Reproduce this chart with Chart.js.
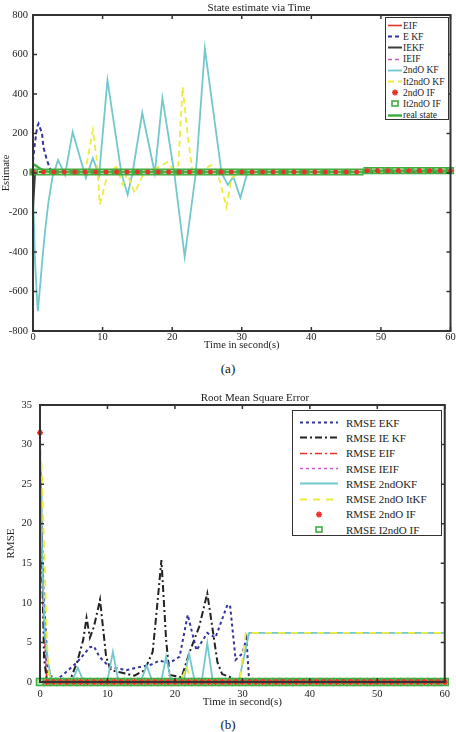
<!DOCTYPE html>
<html>
<head>
<meta charset="utf-8">
<script src="https://cdn.jsdelivr.net/npm/chart.js@4.4.1/dist/chart.umd.min.js"></script>
<style>
  body { margin:0; background:#fff; width:456px; height:732px; overflow:hidden; position:relative;
         font-family:"Liberation Serif", "Times New Roman", serif; color:#222; }
  canvas { position:absolute; left:0; }
  #cA { top:0; }
  #cB { top:380px; }
  .ttl { position:absolute; font-size:11px; white-space:nowrap; transform:translate(-50%,-50%); z-index:2; color:#222; }
  .cap { position:absolute; font-size:13px; white-space:nowrap; transform:translate(-50%,-50%); color:#111; }
  .leg { position:absolute; border:1.5px solid #333; background:#fff; box-sizing:border-box; z-index:3; color:#222; }
  .leg .row { display:flex; align-items:center; white-space:nowrap; }
  .leg svg { flex:none; }
  #legA { left:385px; top:17px; width:64px; height:103px; padding-top:2px; font-size:9.5px; overflow:hidden; }
  #legA .row { height:11.2px; }
  #legA svg { margin-left:2px; margin-right:1px; }
  #legB { left:292px; top:410px; width:150px; height:126px; padding-top:4px; font-size:11px; }
  #legB .row { height:15.3px; }
  #legB svg { margin-left:7px; margin-right:8px; }
</style>
</head>
<body>
<div class="ttl" style="left:259px;top:7px">State estimate via Time</div>
<canvas id="cA" width="456" height="352"></canvas>
<div class="leg" id="legA"></div>
<div class="cap" style="left:228px;top:369px">(a)</div>

<div class="ttl" style="left:255px;top:397px">Root Mean Square Error</div>
<canvas id="cB" width="456" height="329"></canvas>
<div class="leg" id="legB"></div>
<div class="cap" style="left:228px;top:725px">(b)</div>

<script>
// ---- (a) state estimate data ---- //
const labelsA = ['EIF', 'E KF', 'IEKF', 'IEIF', '2ndO KF', 'It2ndO KF', '2ndO IF', 'It2ndO IF', 'real state'];

const timeEifA = [0, 0.5, 60];
const estEifA = [20, 5, 5];
const timeEkfA = [0, 0.2, 0.6, 0.8, 1.3, 1.5, 2.0, 2.6, 60];
const estEkfA = [60, 130, 235, 250, 200, 130, 65, 8, 5];
const timeIekfA = [0, 0.3, 60];
const estIekfA = [-180, 5, 5];
const timeIeifA = [0, 0.5, 60];
const estIeifA = [10, 5, 5];
const timeKf2A = [0, 0.3, 0.6, 0.7, 1.0, 1.3, 1.7, 2.2, 2.8, 3.6, 4.6, 5.7, 7.6, 8.6, 9.5, 10.7, 12.7,
                  13.6, 14.3, 15.7, 17.5, 18.6, 20.3, 21.8, 23.4, 24.7, 27.1, 28.0, 28.8, 29.8, 30.8, 31.5, 60];
const estKf2A = [-100, -450, -650, -700, -580, -456, -304, -152, -20, 66, -10, 208, -25, 75, -10, 470, 0,
                 -110, 0, 305, 0, 380, 0, -425, 0, 630, 0, -60, -20, -125, 0, 5, 5];
const timeIt2A = [0, 7.5, 8.0, 8.6, 9.2, 9.6, 10.2, 10.8, 12.0, 12.9, 13.5, 14.6, 15.3, 16.0, 17.5, 19.3,
                  20.8, 21.5, 22.2, 22.9, 24.0, 25.6, 26.5, 27.8, 28.5, 29.5, 60];
const estIt2A = [5, 5, 100, 218, 60, -160, -80, 10, 30, -60, 0, -100, -50, 10, 20, 55,
                 -10, 435, 200, 10, 5, 40, 5, -172, -30, 5, 5];
const timeStarA = [0, 1.5, 3, 4.5, 6, 7.5, 9, 10.5, 12, 13.5, 15, 16.5, 18, 19.5, 21, 22.5, 24, 25.5, 27, 28.5,
                   30, 31.5, 33, 34.5, 36, 37.5, 39, 40.5, 42, 43.5, 45, 46.5, 48, 49.5, 51, 52.5, 54, 55.5, 57, 58.5, 60];
const starIfA = [5, 5, 5, 5, 5, 5, 5, 5, 5, 5,
                 5, 5, 5, 5, 5, 5, 5, 5, 5, 5,
                 5, 5, 5, 5, 5, 5, 5, 5, 5, 5,
                 5, 5, 12, 12, 12, 12, 12, 12, 12, 12, 12];
const secs = [0, 1, 2, 3, 4, 5, 6, 7, 8, 9, 10, 11, 12, 13, 14, 15, 16, 17, 18, 19, 20, 21, 22, 23, 24, 25, 26, 27, 28, 29,
              30, 31, 32, 33, 34, 35, 36, 37, 38, 39, 40, 41, 42, 43, 44, 45, 46, 47, 48, 49, 50, 51, 52, 53, 54, 55, 56, 57, 58, 59, 60];
const squareIfA = [5, 5, 5, 5, 5, 5, 5, 5, 5, 5,
                   5, 5, 5, 5, 5, 5, 5, 5, 5, 5,
                   5, 5, 5, 5, 5, 5, 5, 5, 5, 5,
                   5, 5, 5, 5, 5, 5, 5, 5, 5, 5,
                   5, 5, 5, 5, 5, 5, 5, 5, 12, 12,
                   12, 12, 12, 12, 12, 12, 12, 12, 12, 12, 12];
const timeRealA = [0, 0.5, 1.0, 1.5, 2.0, 3.0, 47.5, 48.0, 60];
const realA = [45, 35, 22, 14, 8, 5, 5, 12, 12];
const yTicksA = { min: -800, max: 800, step: 200 };

// ---- (b) RMSE data ---- //
const labelsB = ['RMSE EKF', 'RMSE IE KF', 'RMSE EIF', 'RMSE IEIF', 'RMSE 2ndOKF', 'RMSE 2ndO ItKF', 'RMSE 2ndO IF', 'RMSE I2ndO IF'];

const timeEkfB = [0, 0.5, 1.2, 2.5, 3.4, 5.5, 7.4, 8.0, 8.8, 10.3, 12.8, 14.8, 16.5, 17.7, 19.2, 20.7,
                  21.9, 23.2, 24.8, 26.0, 27.8, 28.2, 29.0, 30.0, 30.6, 31.0, 60];
const rmseEkfB = [28, 12, 1, 0.3, 0.9, 2.5, 4.4, 4.5, 3.2, 1.9, 1.5, 1.9, 2.2, 2.7, 2.4, 3.2,
                  8.5, 4.0, 6.2, 5.6, 9.8, 9.5, 2.8, 3.6, 5.5, 0.2, 0.2];
const timeIekfB = [0, 0.3, 0.6, 1.0, 4.5, 5.5, 6.4, 6.9, 7.4, 8.0, 8.9, 9.8, 10.5, 12.0, 14.0, 15.5,
                   16.7, 17.3, 18.0, 18.7, 19.2, 21.0, 22.1, 23.6, 24.8, 25.6, 26.3, 27.0, 28.2, 29.0, 60];
const rmseIekfB = [28.5, 15, 3, 0.3, 0.3, 2.5, 5.3, 8.1, 5.6, 7.0, 10.4, 3.2, 1.5, 1.2, 0.8, 1.5,
                   3.8, 9, 15.4, 5.3, 0.9, 0.6, 3.6, 7.0, 11.2, 6.6, 2.5, 1.0, 0.6, 0.2, 0.2];
const timeEifB = [0, 0.4, 1.0, 60];
const rmseEifB = [30, 12, 0.2, 0.2];
const timeIeifB = [0, 0.4, 1.0, 60];
const rmseIeifB = [29, 10, 0.2, 0.2];
const timeKf2B = [0, 0.15, 0.25, 0.45, 0.7, 1.2, 1.7, 4.8, 5.6, 6.4, 10.0, 10.8, 11.6, 15.0, 15.8, 16.6,
                  18.0, 18.7, 19.4, 21.3, 22.1, 22.9, 24.0, 24.8, 25.6, 29.5, 31.0, 60];
const rmseKf2B = [29.5, 24, 18, 12.3, 6.2, 2.5, 0.2, 0.2, 1.8, 0.2, 0.2, 3.8, 0.2, 0.2, 2.1, 0.2,
                  0.2, 3.2, 0.2, 0.2, 3.6, 0.2, 0.2, 4.9, 0.2, 0.2, 6.2, 6.2];
const timeIt2B = [0, 0.3, 0.5, 0.8, 1.0, 1.3, 1.8, 21.0, 21.7, 22.4, 29.6, 30.5, 60];
const rmseIt2B = [31, 26, 20, 12, 6, 1, 0.2, 0.2, 2.0, 0.2, 0.2, 6.2, 6.2];
const starIfB = [31.5, 0, 0, 0, 0, 0, 0, 0, 0, 0,
                 0, 0, 0, 0, 0, 0, 0, 0, 0, 0,
                 0, 0, 0, 0, 0, 0, 0, 0, 0, 0,
                 0, 0, 0, 0, 0, 0, 0, 0, 0, 0,
                 0, 0, 0, 0, 0, 0, 0, 0, 0, 0,
                 0, 0, 0, 0, 0, 0, 0, 0, 0, 0, 0];
const squareIfB = [0, 0, 0, 0, 0, 0, 0, 0, 0, 0,
                   0, 0, 0, 0, 0, 0, 0, 0, 0, 0,
                   0, 0, 0, 0, 0, 0, 0, 0, 0, 0,
                   0, 0, 0, 0, 0, 0, 0, 0, 0, 0,
                   0, 0, 0, 0, 0, 0, 0, 0, 0, 0,
                   0, 0, 0, 0, 0, 0, 0, 0, 0, 0, 0];
const yTicksB = { min: 0, max: 35, step: 5 };

// ---- helpers ---- //
Chart.defaults.font.family = '"Liberation Serif", "Times New Roman", serif';
Chart.defaults.color = '#222';

const pts = (xs, ys) => xs.map((x, i) => ({ x, y: ys[i] }));

function lineDs(label, xs, ys, color, width, dash, order) {
  return { label, data: pts(xs, ys), showLine: true, borderColor: color, backgroundColor: color,
           borderWidth: width, borderDash: dash, pointRadius: 0, tension: 0, order };
}
function markDs(label, xs, ys, style, color, fill, radius, order) {
  return { label, data: pts(xs, ys), showLine: false, pointStyle: style, pointRadius: radius,
           pointBorderColor: color, pointBackgroundColor: fill, pointBorderWidth: 1.5,
           borderColor: color, backgroundColor: fill, clip: 8, order };
}

// box + inward ticks, like the matlab figure frame
const matlabBox = {
  id: 'matlabBox',
  afterDatasetsDraw(chart) {
    const { ctx, chartArea: a, scales: { x, y } } = chart;
    ctx.save();
    ctx.strokeStyle = '#333';
    ctx.lineWidth = 2;
    ctx.strokeRect(a.left, a.top, a.right - a.left, a.bottom - a.top);
    ctx.lineWidth = 1.5;
    ctx.beginPath();
    x.ticks.forEach(t => {
      const px = x.getPixelForValue(t.value);
      ctx.moveTo(px, a.bottom); ctx.lineTo(px, a.bottom - 4);
      ctx.moveTo(px, a.top); ctx.lineTo(px, a.top + 4);
    });
    y.ticks.forEach(t => {
      const py = y.getPixelForValue(t.value);
      ctx.moveTo(a.left, py); ctx.lineTo(a.left + 4, py);
      ctx.moveTo(a.right, py); ctx.lineTo(a.right - 4, py);
    });
    ctx.stroke();
    ctx.restore();
  }
};

function axes(o) {
  return {
    x: {
      type: 'linear', min: 0, max: 60,
      ticks: { stepSize: 10, font: { size: o.tick }, padding: o.xPad, maxRotation: 0 },
      grid: { display: false, drawTicks: false }, border: { display: false },
      title: { display: true, text: 'Time in second(s)', font: { size: o.lab }, padding: 0 },
      afterFit: s => { s.height = o.xH; }
    },
    y: {
      type: 'linear', min: o.yt.min, max: o.yt.max,
      ticks: { stepSize: o.yt.step, font: { size: o.tick }, padding: o.yPad },
      grid: { display: false, drawTicks: false }, border: { display: false },
      title: { display: true, text: o.yText, font: { size: o.lab }, padding: o.yTitlePad },
      afterFit: s => { s.width = o.yW; }
    }
  };
}

function makeChart(id, datasets, pad, o) {
  return new Chart(document.getElementById(id), {
    type: 'scatter',
    data: { datasets },
    options: {
      responsive: false, animation: false, devicePixelRatio: 1,
      layout: { padding: pad },
      plugins: { legend: { display: false }, tooltip: { enabled: false }, title: { display: false } },
      scales: axes(o)
    },
    plugins: [matlabBox]
  });
}

function legendSample(ds, w, h) {
  const cy = h / 2;
  if (ds.showLine === false) {
    const cx = w / 2, r = 3;
    if (ds.pointStyle === 'star') {
      return `<svg width="${w}" height="${h}"><g stroke="${ds.pointBorderColor}" stroke-width="1.6">
        <line x1="${cx - r}" y1="${cy}" x2="${cx + r}" y2="${cy}"/><line x1="${cx}" y1="${cy - r}" x2="${cx}" y2="${cy + r}"/>
        <line x1="${cx - r * 0.7}" y1="${cy - r * 0.7}" x2="${cx + r * 0.7}" y2="${cy + r * 0.7}"/>
        <line x1="${cx - r * 0.7}" y1="${cy + r * 0.7}" x2="${cx + r * 0.7}" y2="${cy - r * 0.7}"/></g></svg>`;
    }
    return `<svg width="${w}" height="${h}"><rect x="${cx - r}" y="${cy - r + 0.5}" width="${2 * r}" height="${2 * r - 1}"
      fill="none" stroke="${ds.pointBorderColor}" stroke-width="1.6"/></svg>`;
  }
  const dash = ds.borderDash && ds.borderDash.length ? ds.borderDash.join(',') : 'none';
  return `<svg width="${w}" height="${h}"><line x1="0" y1="${cy}" x2="${w}" y2="${cy}" stroke="${ds.borderColor}"
    stroke-width="${Math.max(ds.borderWidth, 1.6)}" stroke-dasharray="${dash}"/></svg>`;
}

function buildLegend(elId, chart, w, h) {
  const el = document.getElementById(elId);
  chart.data.datasets.forEach(ds => {
    const row = document.createElement('div');
    row.className = 'row';
    row.innerHTML = legendSample(ds, w, h) + '<span></span>';
    row.querySelector('span').textContent = ds.label;
    el.appendChild(row);
  });
}

// ---- colours ---- //
const RED = '#e8322a', BLUE = '#34349c', DARK = '#3c3c3c', MAG = '#c45cc4',
      CYAN = '#72c8cc', YEL = '#ecec3a', GREEN = '#3fae3f';

// ---- (a) ---- //
const chartA = makeChart('cA', [
  lineDs(labelsA[0], timeEifA, estEifA, RED, 1.5, [], 8),
  lineDs(labelsA[1], timeEkfA, estEkfA, BLUE, 2, [4, 3], 4),
  lineDs(labelsA[2], timeIekfA, estIekfA, DARK, 2, [], 7),
  lineDs(labelsA[3], timeIeifA, estIeifA, MAG, 1.5, [4, 3], 9),
  lineDs(labelsA[4], timeKf2A, estKf2A, CYAN, 1.8, [], 6),
  lineDs(labelsA[5], timeIt2A, estIt2A, YEL, 1.8, [6, 4], 5),
  markDs(labelsA[6], timeStarA, starIfA, 'star', RED, RED, 2.5, 0),
  markDs(labelsA[7], secs, squareIfA, 'rect', GREEN, 'rgba(90,190,80,0.35)', 4, 1),
  lineDs(labelsA[8], timeRealA, realA, GREEN, 2.5, [], 2)
], { top: 15, right: 5, left: 0, bottom: 0 },
  { tick: 10.5, lab: 10.5, xPad: 0, xH: 21, yPad: 5, yW: 33, yText: 'Estimate', yTitlePad: 0, yt: yTicksA });
buildLegend('legA', chartA, 14, 11);

// ---- (b) ---- //
const chartB = makeChart('cB', [
  lineDs(labelsB[0], timeEkfB, rmseEkfB, BLUE, 2, [3, 3], 4),
  lineDs(labelsB[1], timeIekfB, rmseIekfB, '#222', 2, [7, 3, 2, 3], 5),
  lineDs(labelsB[2], timeEifB, rmseEifB, RED, 1.5, [7, 3, 2, 3], 6),
  lineDs(labelsB[3], timeIeifB, rmseIeifB, MAG, 1.5, [3, 3], 7),
  lineDs(labelsB[4], timeKf2B, rmseKf2B, CYAN, 1.8, [], 3),
  lineDs(labelsB[5], timeIt2B, rmseIt2B, YEL, 1.8, [7, 6], 2),
  markDs(labelsB[6], secs, starIfB, 'star', RED, RED, 3, 0),
  markDs(labelsB[7], secs, squareIfB, 'rect', GREEN, 'rgba(90,190,80,0.45)', 5, 1)
], { top: 25, right: 10, left: 0, bottom: 0 },
  { tick: 10.5, lab: 11, xPad: 6, xH: 27, yPad: 8, yW: 40, yText: 'RMSE', yTitlePad: 5, yt: yTicksB });
buildLegend('legB', chartB, 38, 15);
</script>
</body>
</html>
